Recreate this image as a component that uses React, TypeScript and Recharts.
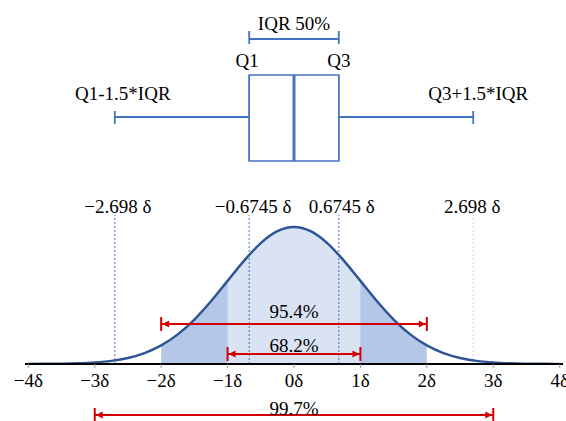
import React from 'react';
import { ComposedChart, Line, Area, XAxis, YAxis, ReferenceLine, ReferenceArea } from 'recharts';

// Normal curve (in units of δ, density)
const xValues = [-4, -3.75, -3.5, -3.25, -3, -2.75, -2.5, -2.25, -2, -1.75, -1.5, -1.25, -1, -0.75, -0.5, -0.25, 0,
  0.25, 0.5, 0.75, 1, 1.25, 1.5, 1.75, 2, 2.25, 2.5, 2.75, 3, 3.25, 3.5, 3.75, 4];
const densityValues = [0.0001, 0.0004, 0.0009, 0.002, 0.0044, 0.0091, 0.0175, 0.0317, 0.054, 0.0863, 0.1295, 0.1826, 0.242, 0.3011, 0.3521, 0.3867, 0.3989,
  0.3867, 0.3521, 0.3011, 0.242, 0.1826, 0.1295, 0.0863, 0.054, 0.0317, 0.0175, 0.0091, 0.0044, 0.002, 0.0009, 0.0004, 0.0001];

const tickValues = [-4, -3, -2, -1, 0, 1, 2, 3, 4];
const tickLabels = ['−4δ', '−3δ', '−2δ', '−1δ', '0δ', '1δ', '2δ', '3δ', '4δ'];

// Dashed marker lines
const markerValues = [-2.698, -0.6745, 0.6745, 2.698];
const markerLabels = ['−2.698 δ', '−0.6745 δ', '0.6745 δ', '2.698 δ'];
const markerColors = ['#4472c4', '#4472c4', '#4472c4', '#c5d4ee'];
const markerLabelShift = [3, 4, 3, -1];
const markerTop = 0.434;

// Coverage ranges
const rangeLow = [-2, -1, -3];
const rangeHigh = [2, 1, 3];
const rangeLabels = ['95.4%', '68.2%', '99.7%'];
const rangeLevels = [0.1165, 0.0291, -0.1485];
const rangeLabelOffsets = [6, 2, 0];

// Box plot statistics (δ units)
const boxStats = { lowerWhisker: -2.698, q1: -0.6745, median: 0, q3: 0.6745, upperWhisker: 2.698 };
const boxLevels = { bottom: 0.5911, top: 0.8416, whisker: 0.7193, capLow: 0.6989, capHigh: 0.7368, iqr: 0.9464, iqrLow: 0.9319, iqrHigh: 0.9697 };

const data = xValues.map((x, i) => ({
  x,
  y: densityValues[i],
  outer: x >= -2 && x <= 2 ? densityValues[i] : null,
  inner: x >= -1 && x <= 1 ? densityValues[i] : null,
}));

const FONT = '"Liberation Serif", "Times New Roman", serif';
const BLUE = '#4472c4';
const RED = '#d40000';

const RangeArrow = (p: any) => {
  const { x1, y1, x2, y2 } = p;
  const l = Math.min(x1, x2);
  const r = Math.max(x1, x2);
  const h = 7;
  const a = 7;
  const w = 3.5;
  return (
    <g>
      <line x1={l} y1={y1} x2={r} y2={y2} stroke={RED} strokeWidth={1.8} />
      <line x1={l} y1={y1 - h} x2={l} y2={y1 + h} stroke={RED} strokeWidth={2} />
      <line x1={r} y1={y2 - h} x2={r} y2={y2 + h} stroke={RED} strokeWidth={2} />
      <polygon points={`${l + 1},${y1} ${l + 1 + a},${y1 - w} ${l + 1 + a},${y1 + w}`} fill={RED} />
      <polygon points={`${r - 1},${y2} ${r - 1 - a},${y2 - w} ${r - 1 - a},${y2 + w}`} fill={RED} />
    </g>
  );
};

const lbl = (value: string, offset: number, dx = 0) => ({
  value,
  position: 'top' as const,
  offset,
  dx,
  fill: '#000',
  fontSize: 19,
  fontFamily: FONT,
});

export default function App() {
  return (
    <div style={{ position: 'absolute', left: 0, top: 0, background: '#fff' }}>
      <ComposedChart
        width={566}
        height={421}
        data={data}
        margin={{ top: 0, right: 3, left: 25, bottom: 27 }}
        style={{ fontFamily: FONT }}
      >
        <XAxis
          dataKey="x"
          type="number"
          domain={[-4.05, 4.05]}
          ticks={tickValues}
          interval={0}
          tickFormatter={(v: number) => tickLabels[tickValues.indexOf(v)]}
          axisLine={{ stroke: '#000', strokeWidth: 2 }}
          tickLine={{ stroke: '#999' }}
          tickSize={4}
          tickMargin={6}
          tick={{ fill: '#000', fontSize: 19, fontFamily: FONT }}
          height={30}
          allowDataOverflow
        />
        <YAxis hide type="number" domain={[0, 1.06]} allowDataOverflow />

        <Area dataKey="outer" type="monotone" stroke="none" fill="#b4c7e7" fillOpacity={1} baseValue={0} isAnimationActive={false} />
        <Area dataKey="inner" type="monotone" stroke="none" fill="#dae3f3" fillOpacity={1} baseValue={0} isAnimationActive={false} />

        {markerValues.map((m, i) => (
          <ReferenceLine
            key={'m' + i}
            segment={[{ x: m, y: 0 }, { x: m, y: markerTop }]}
            stroke={markerColors[i]}
            strokeWidth={1}
            strokeDasharray="2 2"
            ifOverflow="visible"
            label={lbl(markerLabels[i], 2, markerLabelShift[i])}
          />
        ))}

        <Line dataKey="y" type="monotone" stroke="#2f5597" strokeWidth={2.5} dot={false} isAnimationActive={false} />

        {rangeLow.map((lo, i) => (
          <ReferenceLine
            key={'r' + i}
            segment={[{ x: lo, y: rangeLevels[i] }, { x: rangeHigh[i], y: rangeLevels[i] }]}
            stroke={RED}
            ifOverflow="visible"
            shape={RangeArrow}
            label={lbl(rangeLabels[i], rangeLabelOffsets[i])}
          />
        ))}

        {/* Box plot */}
        <ReferenceLine segment={[{ x: boxStats.lowerWhisker, y: boxLevels.whisker }, { x: boxStats.q1, y: boxLevels.whisker }]} stroke={BLUE} strokeWidth={1.8} ifOverflow="visible" />
        <ReferenceLine segment={[{ x: boxStats.q3, y: boxLevels.whisker }, { x: boxStats.upperWhisker, y: boxLevels.whisker }]} stroke={BLUE} strokeWidth={1.8} ifOverflow="visible" />
        <ReferenceLine segment={[{ x: boxStats.lowerWhisker, y: boxLevels.capLow }, { x: boxStats.lowerWhisker, y: boxLevels.capHigh }]} stroke={BLUE} strokeWidth={1.8} ifOverflow="visible" label={lbl('Q1-1.5*IQR', 11, 8)} />
        <ReferenceLine segment={[{ x: boxStats.upperWhisker, y: boxLevels.capLow }, { x: boxStats.upperWhisker, y: boxLevels.capHigh }]} stroke={BLUE} strokeWidth={1.8} ifOverflow="visible" label={lbl('Q3+1.5*IQR', 11, 5)} />
        <ReferenceArea x1={boxStats.q1} x2={boxStats.q3} y1={boxLevels.bottom} y2={boxLevels.top} fill="#fff" fillOpacity={1} stroke={BLUE} strokeWidth={1.5} ifOverflow="visible" />
        <ReferenceLine segment={[{ x: boxStats.q1, y: boxLevels.bottom }, { x: boxStats.q1, y: boxLevels.top }]} stroke={BLUE} strokeWidth={1.5} ifOverflow="visible" label={lbl('Q1', 8, -2)} />
        <ReferenceLine segment={[{ x: boxStats.q3, y: boxLevels.bottom }, { x: boxStats.q3, y: boxLevels.top }]} stroke={BLUE} strokeWidth={1.5} ifOverflow="visible" label={lbl('Q3', 8, 0)} />
        <ReferenceLine segment={[{ x: boxStats.median, y: boxLevels.bottom }, { x: boxStats.median, y: boxLevels.top }]} stroke={BLUE} strokeWidth={3} ifOverflow="visible" />

        {/* IQR bracket */}
        <ReferenceLine segment={[{ x: boxStats.q1, y: boxLevels.iqr }, { x: boxStats.q3, y: boxLevels.iqr }]} stroke={BLUE} strokeWidth={1.8} ifOverflow="visible" label={lbl('IQR 50%', 9)} />
        <ReferenceLine segment={[{ x: boxStats.q1, y: boxLevels.iqrLow }, { x: boxStats.q1, y: boxLevels.iqrHigh }]} stroke={BLUE} strokeWidth={1.8} ifOverflow="visible" />
        <ReferenceLine segment={[{ x: boxStats.q3, y: boxLevels.iqrLow }, { x: boxStats.q3, y: boxLevels.iqrHigh }]} stroke={BLUE} strokeWidth={1.8} ifOverflow="visible" />
      </ComposedChart>
    </div>
  );
}
